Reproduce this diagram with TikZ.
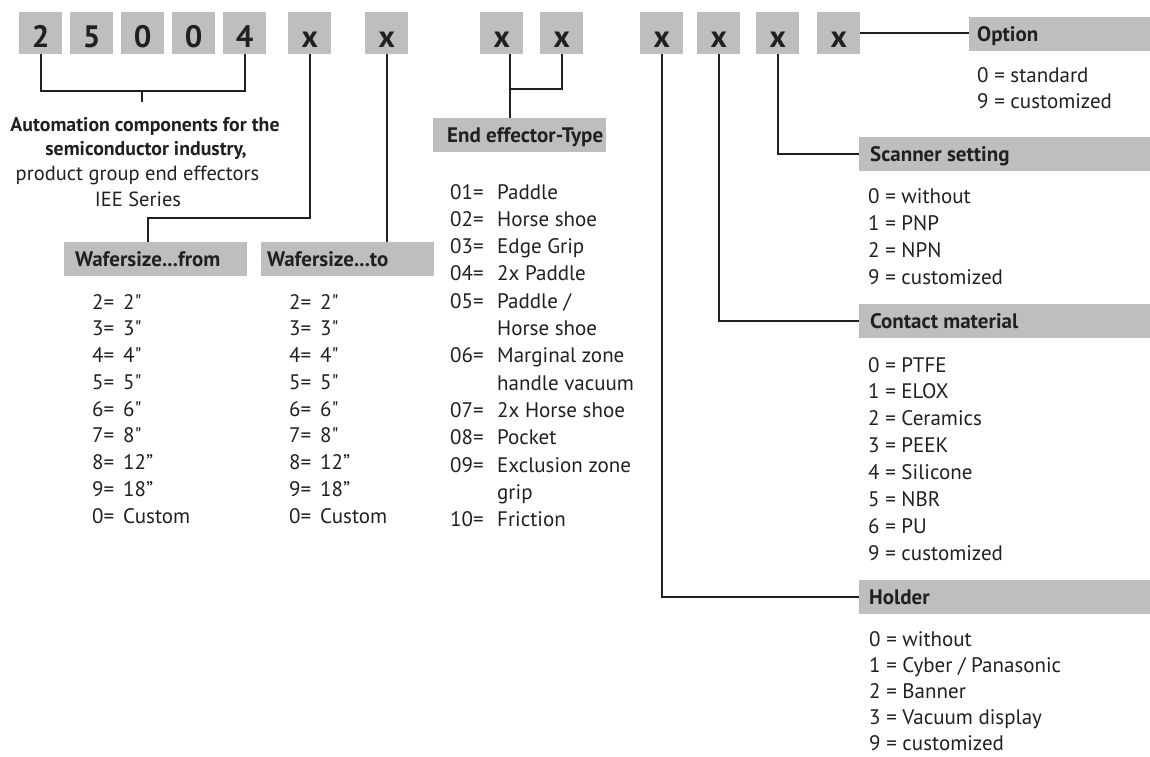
\documentclass[tikz,border=0pt]{standalone}
\usepackage{fontspec}
\setmainfont{PT Sans}
\newfontfamily\qfont{PT Sans}
\definecolor{boxgray}{RGB}{189,190,192}
\definecolor{ink}{RGB}{35,31,32}
\newcommand{\wq}{{\qfont"}}
\newcommand{\weq}{=\hspace{9pt}}
\begin{document}
\begin{tikzpicture}[x=1pt,y=-1pt,
  every node/.style={text=ink},
  digit/.style={fill=boxgray, minimum width=43pt, minimum height=42pt, inner sep=0pt,
    text height=30pt, text depth=2pt, anchor=north west,
    font=\fontsize{31}{31}\selectfont\bfseries},
  hdrbox/.style={fill=boxgray, minimum height=34pt, inner sep=0pt, anchor=north west},
  hdrtext/.style={anchor=west, inner sep=0pt, text height=17pt, text depth=2pt,
    font=\fontsize{21}{25}\selectfont\bfseries},
  item/.style={anchor=base west, inner sep=0pt, font=\fontsize{21}{25}\selectfont},
  boldline/.style={anchor=base, inner sep=0pt, font=\fontsize{19.8}{25}\selectfont\bfseries},
  plainline/.style={anchor=base, inner sep=0pt, font=\fontsize{20.5}{25}\selectfont},
  conn/.style={draw=ink, line width=2pt}]
\useasboundingbox (0,0) rectangle (1150,756);

% top code boxes
\foreach \n/\xx/\t in {b1/19/2, b2/70/5, b3/121/0, b4/172/0, b5/223/4,
  b6/288/x, b7/365/x, b8/480/x, b9/540/x, b10/640/x, b11/697/x, b12/756/x, b13/817/x}
  \node[digit] (\n) at (\xx,12) {\t};

% header boxes
\node[hdrbox, minimum width=183pt] (hfrom) at (64,242) {};
\node[hdrtext] (tfrom) at ([xshift=11pt]hfrom.west) {Wafersize...from};
\node[hdrbox, minimum width=173pt] (hto) at (261,242) {};
\node[hdrtext] (tto) at ([xshift=6pt]hto.west) {Wafersize...to};
\node[hdrbox, minimum width=173pt] (hee) at (433,118) {};
\node[hdrtext] (tee) at ([xshift=14pt]hee.west) {End effector-Type};
\node[hdrbox, minimum width=181pt] (hopt) at (969,17) {};
\node[hdrtext] (topt) at ([xshift=8pt]hopt.west) {Option};
\node[hdrbox, minimum width=291pt] (hscan) at (859,137) {};
\node[hdrtext] (tscan) at ([xshift=11pt]hscan.west) {Scanner setting};
\node[hdrbox, minimum width=291pt] (hcont) at (859,304) {};
\node[hdrtext] (tcont) at ([xshift=11pt]hcont.west) {Contact material};
\node[hdrbox, minimum width=291pt] (hhold) at (859,580) {};
\node[hdrtext] (thold) at ([xshift=10pt]hhold.west) {Holder};

% automation text
\node[boldline] (auto1) at (145,131) {Automation components for the};
\node[boldline] (auto2) at (146,155) {semiconductor industry,};
\node[plainline] (auto3) at (137.5,180) {product group end effectors};
\node[plainline] (auto4) at (138,206) {IEE Series};

% lists
\foreach \t [count=\i from 0] in {2\weq 2\wq, 3\weq 3\wq, 4\weq 4\wq, 5\weq 5\wq,
  6\weq 6\wq, 7\weq 8\wq, 8\weq 12”, 9\weq 18”, 0\weq Custom}
  {\node[item] (wf\i) at (92,309+\i*26.75) {\t};
   \node[item] (wt\i) at (289,309+\i*26.75) {\t};}

\foreach \k/\t [count=\i from 0] in {01/Paddle, 02/Horse shoe, 03/Edge Grip, 04/2x Paddle,
  05/{Paddle /}, /Horse shoe, 06/Marginal zone, /handle vacuum, 07/2x Horse shoe,
  08/Pocket, 09/Exclusion zone, /grip, 10/Friction}
  {\node[item] (een\i) at (450,199+\i*27.3) {\ifx\k\empty\else\k=\fi};
   \node[item] (eet\i) at (497,199+\i*27.3) {\t};}

\foreach \t [count=\i from 0] in {0 = standard, 9 = customized}
  \node[item] (op\i) at (977,82.5+\i*25.5) {\t};
\foreach \t [count=\i from 0] in {0 = without, 1 = PNP, 2 = NPN, 9 = customized}
  \node[item] (sc\i) at (868,203+\i*27.3) {\t};
\foreach \t [count=\i from 0] in {0 = PTFE, 1 = ELOX, 2 = Ceramics, 3 = PEEK, 4 = Silicone, 5 = NBR, 6 = PU, 9 = customized}
  \node[item] (cm\i) at (868,372+\i*26.9) {\t};
\foreach \t [count=\i from 0] in {0 = without, 1 = Cyber / Panasonic, 2 = Banner, 3 = Vacuum display, 9 = customized}
  \node[item] (ho\i) at (869,646+\i*26.2) {\t};

% connectors
\coordinate (brace) at (142,91);
\coordinate (stemend) at (142,102);
\draw[conn] (b1.south) |- (b5.south |- brace) -- (b5.south);
\draw[conn] (brace) -- (stemend);
\coordinate (j1) at (148,218);
\draw[conn] (b6.south) |- (j1) -- (j1 |- hfrom.north);
\draw[conn] (b7.south) -- (b7.south |- hto.north);
\coordinate (j2) at (510,89);
\draw[conn] (b9.south) |- (j2) -- (j2 |- hee.north);
\draw[conn] (b8.south -| j2) -- (j2);
\draw[conn] (b10.south) |- (hhold.west);
\draw[conn] (b11.south) |- (hcont.west);
\draw[conn] (b12.south) |- (hscan.west);
\draw[conn] (b13.east) -- (b13.east -| hopt.west);
\end{tikzpicture}
\end{document}
